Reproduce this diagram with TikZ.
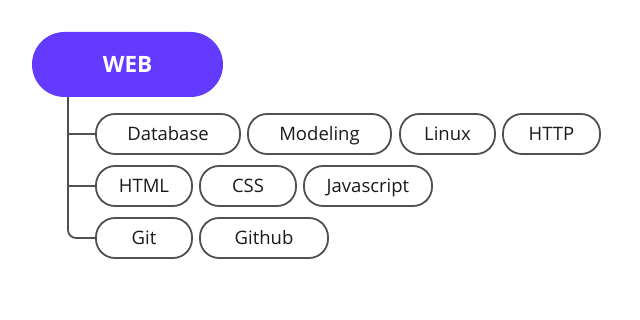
\documentclass[tikz,border=0pt]{standalone}
\usepackage{fontspec}
\setmainfont{Open Sans}
\definecolor{webpurple}{HTML}{643AFF}
\definecolor{pillgray}{HTML}{505050}
\definecolor{txt}{HTML}{1A1A1A}
\begin{document}
\begin{tikzpicture}[x=1pt,y=-1pt,
  pill/.style={draw=pillgray, line width=1.8pt, rounded corners=19pt, minimum height=40pt, inner sep=0pt, text height=13pt, text depth=0pt, text=txt, font=\fontsize{18.5}{22}\selectfont},
  link/.style={draw=pillgray, line width=1.8pt}]
\useasboundingbox[fill=white] (0,0) rectangle (640,320);
\node[fill=webpurple, rounded corners=32.5pt, minimum width=191pt, minimum height=65pt, inner sep=0pt, text height=16pt, text depth=0pt, text=white, font=\fontsize{22.5}{26}\bfseries\selectfont] (web) at (127.5,64.5) {WEB};
\node[pill, minimum width=144pt] (db) at (168,134) {Database};
\node[pill, minimum width=143pt] (mod) at (319.5,134) {Modeling};
\node[pill, minimum width=95pt] (linux) at (447.5,134) {Linux};
\node[pill, minimum width=97pt] (http) at (551.5,134) {HTTP};
\node[pill, minimum width=96pt] (html) at (144,186) {HTML};
\node[pill, minimum width=96pt] (css) at (248,186) {CSS};
\node[pill, minimum width=128pt] (js) at (368,186) {Javascript};
\node[pill, minimum width=96pt] (git) at (144,238) {Git};
\node[pill, minimum width=128pt] (gh) at (264,238) {Github};
\coordinate (t) at (web.south -| 68,0);
\draw[link, rounded corners=8pt] (t) |- (git.west);
\draw[link] (t |- db.west) -- (db.west);
\draw[link] (t |- html.west) -- (html.west);
\end{tikzpicture}
\end{document}
